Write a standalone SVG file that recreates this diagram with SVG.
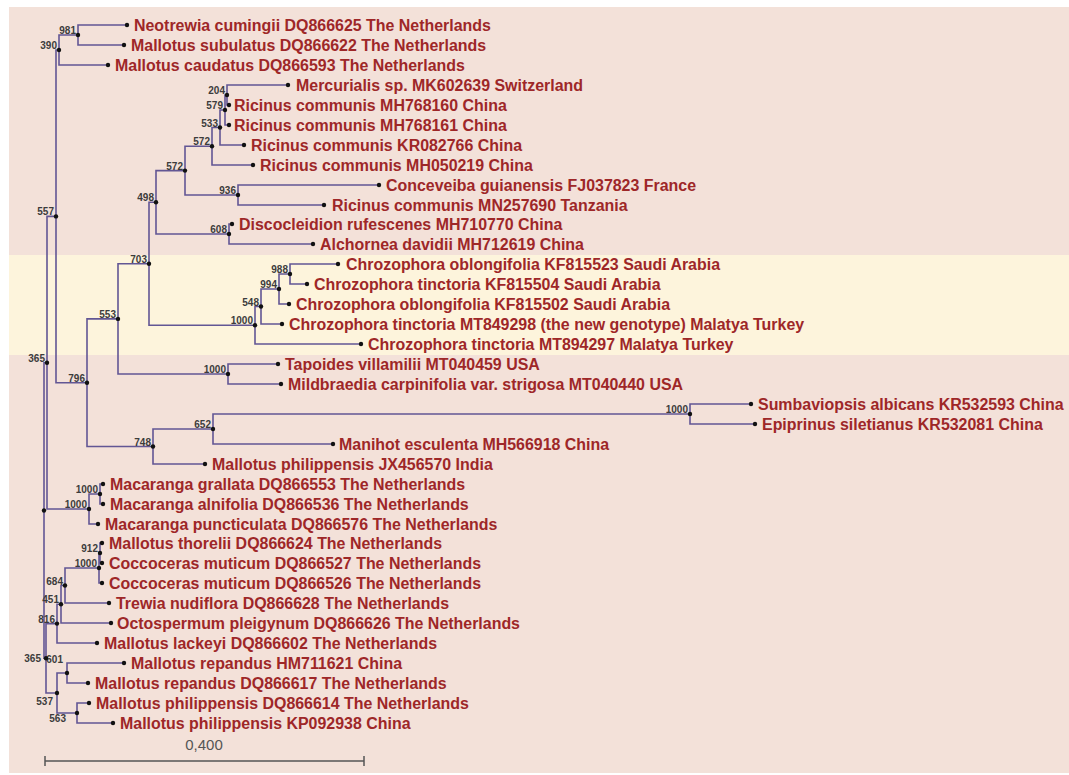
<svg xmlns="http://www.w3.org/2000/svg" width="1069" height="775" viewBox="0 0 1069 775">
<style>
.tip{font-family:"Liberation Sans",Arial,sans-serif;font-size:15.95px;font-weight:bold;fill:#9e2728}
.bs{font-family:"Liberation Sans",Arial,sans-serif;font-size:10px;font-weight:bold;fill:#3c3c3c;text-anchor:end}
.br{fill:none;stroke:#625694;stroke-width:1.6}
.dot{fill:#111}
.sc{font-family:"Liberation Sans",Arial,sans-serif;font-size:15px;fill:#555;text-anchor:middle}
</style>
<rect x="0" y="0" width="1069" height="775" fill="#ffffff"/>
<rect x="9" y="7" width="1060" height="766" fill="#f3e1d9"/>
<rect x="9" y="255" width="1060" height="100" fill="#fdf4dc"/>
<g id="connectors">
<path class="br" d="M127 25H78V45H124"/>
<path class="br" d="M78 35H59V65H108"/>
<path class="br" d="M288 85H227V105H229"/>
<path class="br" d="M227 95H225V125H229"/>
<path class="br" d="M225 110H220V145H244"/>
<path class="br" d="M220 127.5H212V165H253"/>
<path class="br" d="M379 185H238V205H324"/>
<path class="br" d="M212 146.3H185V195H238"/>
<path class="br" d="M232 224H229V244H313"/>
<path class="br" d="M185 170.6H156V234H229"/>
<path class="br" d="M338 264H290V284H307"/>
<path class="br" d="M290 274H279V304H289"/>
<path class="br" d="M279 289H261V324H282"/>
<path class="br" d="M261 306.5H255V344H361"/>
<path class="br" d="M156 202.3H149V325.3H255"/>
<path class="br" d="M278 364H228V384H281"/>
<path class="br" d="M149 263.8H118V374H228"/>
<path class="br" d="M751 404H690V424H755"/>
<path class="br" d="M690 414H213V444H333"/>
<path class="br" d="M213 429H153V464H205"/>
<path class="br" d="M118 318.9H87V446.5H153"/>
<path class="br" d="M59 50H56V382.7H87"/>
<path class="br" d="M103 484H100V504H103"/>
<path class="br" d="M100 494H89V524H98"/>
<path class="br" d="M56 216.4H47V509H89"/>
<path class="br" d="M102 543H100V563H102"/>
<path class="br" d="M100 553H99V583H102"/>
<path class="br" d="M99 568H65V603H109"/>
<path class="br" d="M65 585.5H61V623H111"/>
<path class="br" d="M61 604.3H57V643H97"/>
<path class="br" d="M124 663H67V683H88"/>
<path class="br" d="M89 703H77V723H113"/>
<path class="br" d="M67 673H57V713H77"/>
<path class="br" d="M57 623.6H46V693H57"/>
<path class="br" d="M47 362.7H44V658.3H46"/>
</g>
<g id="nodes">
<g id="n981"><circle class="dot" cx="78" cy="35" r="2.2"/><text class="bs" x="76" y="34">981</text></g>
<g id="n390"><circle class="dot" cx="59" cy="50" r="2.2"/><text class="bs" x="57" y="49">390</text></g>
<g id="n204"><circle class="dot" cx="227" cy="95" r="2.2"/><text class="bs" x="225" y="94">204</text></g>
<g id="n579"><circle class="dot" cx="225" cy="110" r="2.2"/><text class="bs" x="223" y="109">579</text></g>
<g id="n533"><circle class="dot" cx="220" cy="127.5" r="2.2"/><text class="bs" x="218" y="126.5">533</text></g>
<g id="n572a"><circle class="dot" cx="212" cy="146.3" r="2.2"/><text class="bs" x="210" y="145">572</text></g>
<g id="n936"><circle class="dot" cx="238" cy="195" r="2.2"/><text class="bs" x="236" y="194">936</text></g>
<g id="n572b"><circle class="dot" cx="185" cy="170.6" r="2.2"/><text class="bs" x="183" y="169.6">572</text></g>
<g id="n608"><circle class="dot" cx="229" cy="234" r="2.2"/><text class="bs" x="227" y="233">608</text></g>
<g id="n498"><circle class="dot" cx="156" cy="202.3" r="2.2"/><text class="bs" x="154" y="201.3">498</text></g>
<g id="n988"><circle class="dot" cx="290" cy="274" r="2.2"/><text class="bs" x="288" y="273">988</text></g>
<g id="n994"><circle class="dot" cx="279" cy="289" r="2.2"/><text class="bs" x="277" y="288">994</text></g>
<g id="n548"><circle class="dot" cx="261" cy="306.5" r="2.2"/><text class="bs" x="259" y="305.5">548</text></g>
<g id="n1000c"><circle class="dot" cx="255" cy="325.3" r="2.2"/><text class="bs" x="253" y="324.3">1000</text></g>
<g id="n703"><circle class="dot" cx="149" cy="263.8" r="2.2"/><text class="bs" x="147" y="262.8">703</text></g>
<g id="n1000t"><circle class="dot" cx="228" cy="374" r="2.2"/><text class="bs" x="226" y="373">1000</text></g>
<g id="n553"><circle class="dot" cx="118" cy="318.9" r="2.2"/><text class="bs" x="116" y="317.9">553</text></g>
<g id="n1000s"><circle class="dot" cx="690" cy="414" r="2.2"/><text class="bs" x="688" y="413">1000</text></g>
<g id="n652"><circle class="dot" cx="213" cy="429" r="2.2"/><text class="bs" x="211" y="428">652</text></g>
<g id="n748"><circle class="dot" cx="153" cy="446.5" r="2.2"/><text class="bs" x="151" y="445.5">748</text></g>
<g id="n796"><circle class="dot" cx="87" cy="382.7" r="2.2"/><text class="bs" x="85" y="381.7">796</text></g>
<g id="n557"><circle class="dot" cx="56" cy="216.4" r="2.2"/><text class="bs" x="54" y="215.4">557</text></g>
<g id="n1000m1"><circle class="dot" cx="100" cy="494" r="2.2"/><text class="bs" x="98" y="493">1000</text></g>
<g id="n1000m2"><circle class="dot" cx="89" cy="509" r="2.2"/><text class="bs" x="87" y="508">1000</text></g>
<g id="n365a"><circle class="dot" cx="47" cy="362.7" r="2.2"/><text class="bs" x="45" y="361.7">365</text></g>
<g id="n912"><circle class="dot" cx="100" cy="553" r="2.2"/><text class="bs" x="98" y="552">912</text></g>
<g id="n1000cc"><circle class="dot" cx="99" cy="568" r="2.2"/><text class="bs" x="97" y="567">1000</text></g>
<g id="n684"><circle class="dot" cx="65" cy="585.5" r="2.2"/><text class="bs" x="63" y="584.5">684</text></g>
<g id="n451"><circle class="dot" cx="61" cy="604.3" r="2.2"/><text class="bs" x="59" y="603.3">451</text></g>
<g id="n816"><circle class="dot" cx="57" cy="623.6" r="2.2"/><text class="bs" x="55" y="622.6">816</text></g>
<g id="n601"><circle class="dot" cx="67" cy="673" r="2.2"/><text class="bs" x="63" y="663">601</text></g>
<g id="n563"><circle class="dot" cx="77" cy="713" r="2.2"/><text class="bs" x="66" y="722">563</text></g>
<g id="n537"><circle class="dot" cx="57" cy="693" r="2.2"/><text class="bs" x="53" y="705">537</text></g>
<g id="n365b"><circle class="dot" cx="46" cy="658.3" r="2.2"/><text class="bs" x="41" y="662">365</text></g>
<g id="root"><circle class="dot" cx="44" cy="510.5" r="2.2"/></g>
</g>
<g id="tips">
<g id="t1"><circle class="dot" cx="127" cy="25" r="2.2"/><text class="tip" x="134" y="30.5">Neotrewia cumingii DQ866625 The Netherlands</text></g>
<g id="t2"><circle class="dot" cx="124" cy="45" r="2.2"/><text class="tip" x="131" y="50.5">Mallotus subulatus DQ866622 The Netherlands</text></g>
<g id="t3"><circle class="dot" cx="108" cy="65" r="2.2"/><text class="tip" x="115" y="70.5">Mallotus caudatus DQ866593 The Netherlands</text></g>
<g id="t4"><circle class="dot" cx="288" cy="85" r="2.2"/><text class="tip" x="296" y="90.5">Mercurialis sp. MK602639 Switzerland</text></g>
<g id="t5"><circle class="dot" cx="229" cy="105" r="2.2"/><text class="tip" x="234" y="110.5">Ricinus communis MH768160 China</text></g>
<g id="t6"><circle class="dot" cx="229" cy="125" r="2.2"/><text class="tip" x="234" y="130.5">Ricinus communis MH768161 China</text></g>
<g id="t7"><circle class="dot" cx="244" cy="145" r="2.2"/><text class="tip" x="251" y="150.5">Ricinus communis KR082766 China</text></g>
<g id="t8"><circle class="dot" cx="253" cy="165" r="2.2"/><text class="tip" x="260" y="170.5">Ricinus communis MH050219 China</text></g>
<g id="t9"><circle class="dot" cx="379" cy="185" r="2.2"/><text class="tip" x="386" y="190.5">Conceveiba guianensis FJ037823 France</text></g>
<g id="t10"><circle class="dot" cx="324" cy="205" r="2.2"/><text class="tip" x="332" y="210.5">Ricinus communis MN257690 Tanzania</text></g>
<g id="t11"><circle class="dot" cx="232" cy="224" r="2.2"/><text class="tip" x="239" y="229.5">Discocleidion rufescenes MH710770 China</text></g>
<g id="t12"><circle class="dot" cx="313" cy="244" r="2.2"/><text class="tip" x="320" y="249.5">Alchornea davidii MH712619 China</text></g>
<g id="t13"><circle class="dot" cx="338" cy="264" r="2.2"/><text class="tip" x="346" y="269.5">Chrozophora oblongifolia KF815523 Saudi Arabia</text></g>
<g id="t14"><circle class="dot" cx="307" cy="284" r="2.2"/><text class="tip" x="314" y="289.5">Chrozophora tinctoria KF815504 Saudi Arabia</text></g>
<g id="t15"><circle class="dot" cx="289" cy="304" r="2.2"/><text class="tip" x="296" y="309.5">Chrozophora oblongifolia KF815502 Saudi Arabia</text></g>
<g id="t16"><circle class="dot" cx="282" cy="324" r="2.2"/><text class="tip" x="289" y="329.5">Chrozophora tinctoria MT849298 (the new genotype) Malatya Turkey</text></g>
<g id="t17"><circle class="dot" cx="361" cy="344" r="2.2"/><text class="tip" x="368" y="349.5">Chrozophora tinctoria MT894297 Malatya Turkey</text></g>
<g id="t18"><circle class="dot" cx="278" cy="364" r="2.2"/><text class="tip" x="285" y="369.5">Tapoides villamilii MT040459 USA</text></g>
<g id="t19"><circle class="dot" cx="281" cy="384" r="2.2"/><text class="tip" x="288" y="389.5">Mildbraedia carpinifolia var. strigosa MT040440 USA</text></g>
<g id="t20"><circle class="dot" cx="751" cy="404" r="2.2"/><text class="tip" x="758" y="409.5">Sumbaviopsis albicans KR532593 China</text></g>
<g id="t21"><circle class="dot" cx="755" cy="424" r="2.2"/><text class="tip" x="762" y="429.5">Epiprinus siletianus KR532081 China</text></g>
<g id="t22"><circle class="dot" cx="333" cy="444" r="2.2"/><text class="tip" x="339" y="449.5">Manihot esculenta MH566918 China</text></g>
<g id="t23"><circle class="dot" cx="205" cy="464" r="2.2"/><text class="tip" x="212" y="469.5">Mallotus philippensis JX456570 India</text></g>
<g id="t24"><circle class="dot" cx="103" cy="484" r="2.2"/><text class="tip" x="110" y="489.5">Macaranga grallata DQ866553 The Netherlands</text></g>
<g id="t25"><circle class="dot" cx="103" cy="504" r="2.2"/><text class="tip" x="110" y="509.5">Macaranga alnifolia DQ866536 The Netherlands</text></g>
<g id="t26"><circle class="dot" cx="98" cy="524" r="2.2"/><text class="tip" x="105" y="529.5">Macaranga puncticulata DQ866576 The Netherlands</text></g>
<g id="t27"><circle class="dot" cx="102" cy="543" r="2.2"/><text class="tip" x="109" y="548.5">Mallotus thorelii DQ866624 The Netherlands</text></g>
<g id="t28"><circle class="dot" cx="102" cy="563" r="2.2"/><text class="tip" x="109" y="568.5">Coccoceras muticum DQ866527 The Netherlands</text></g>
<g id="t29"><circle class="dot" cx="102" cy="583" r="2.2"/><text class="tip" x="109" y="588.5">Coccoceras muticum DQ866526 The Netherlands</text></g>
<g id="t30"><circle class="dot" cx="109" cy="603" r="2.2"/><text class="tip" x="116" y="608.5">Trewia nudiflora DQ866628 The Netherlands</text></g>
<g id="t31"><circle class="dot" cx="111" cy="623" r="2.2"/><text class="tip" x="117" y="628.5">Octospermum pleigynum DQ866626 The Netherlands</text></g>
<g id="t32"><circle class="dot" cx="97" cy="643" r="2.2"/><text class="tip" x="104" y="648.5">Mallotus lackeyi DQ866602 The Netherlands</text></g>
<g id="t33"><circle class="dot" cx="124" cy="663" r="2.2"/><text class="tip" x="131" y="668.5">Mallotus repandus HM711621 China</text></g>
<g id="t34"><circle class="dot" cx="88" cy="683" r="2.2"/><text class="tip" x="95" y="688.5">Mallotus repandus DQ866617 The Netherlands</text></g>
<g id="t35"><circle class="dot" cx="89" cy="703" r="2.2"/><text class="tip" x="96" y="708.5">Mallotus philippensis DQ866614 The Netherlands</text></g>
<g id="t36"><circle class="dot" cx="113" cy="723" r="2.2"/><text class="tip" x="120" y="728.5">Mallotus philippensis KP092938 China</text></g>
</g>
<g id="scale">
<path d="M45 761H364M45 756V766M364 756V766" fill="none" stroke="#555" stroke-width="1.5"/>
<text class="sc" x="204" y="750">0,400</text>
</g>
</svg>
